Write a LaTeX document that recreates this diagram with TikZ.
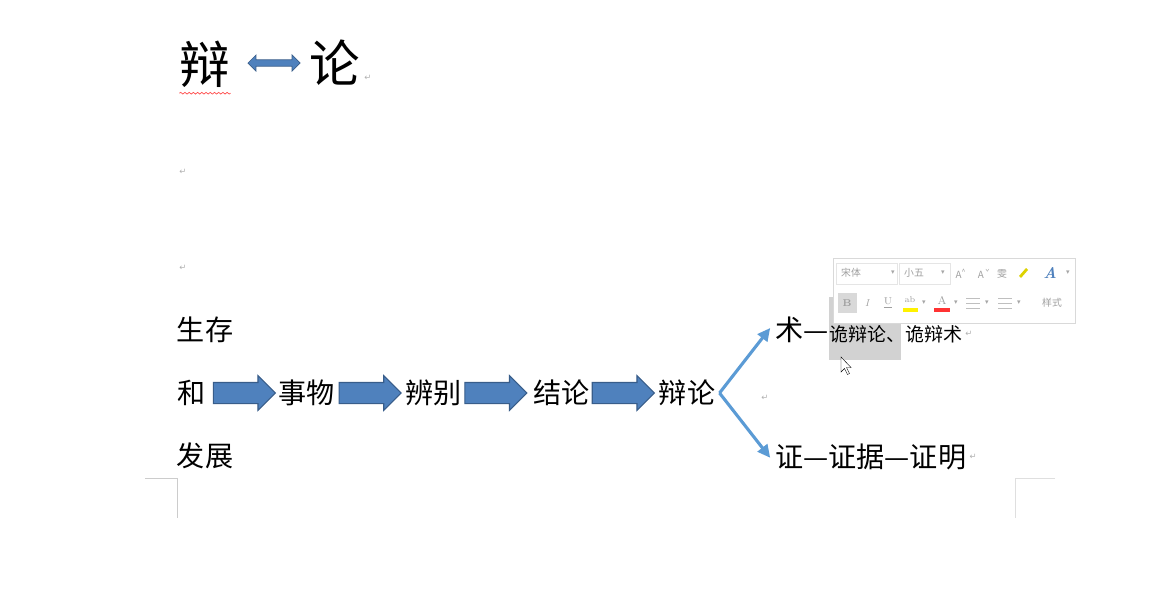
\documentclass[tikz,border=0pt]{standalone}
\usepackage{fontspec}
\usepackage{tikz}
\usetikzlibrary{positioning,arrows.meta,shapes.arrows,decorations.pathmorphing}
\newfontfamily\cjk{Noto Sans CJK SC}
\newfontfamily\symfont{DejaVu Sans}
\definecolor{arrowblue}{RGB}{79,129,189}
\definecolor{arrowedge}{RGB}{56,93,138}
\definecolor{branchblue}{RGB}{91,155,213}

\begin{document}
\begin{tikzpicture}[
    x=0.025cm, y=-0.025cm,
    node distance=0.09cm,
    title/.style={inner sep=0pt, font=\cjk\fontsize{36}{40}\selectfont},
    word/.style={inner sep=0pt, font=\cjk\fontsize{20}{24}\selectfont},
    small/.style={inner sep=0pt, font=\cjk\fontsize{13.5}{16}\selectfont},
    blockarr/.style={single arrow, fill=arrowblue, draw=arrowedge, line width=0.8pt,
        inner xsep=0pt, inner ysep=0.25cm, minimum height=1.55cm, minimum width=0.8cm,
        single arrow head extend=0.17cm},
    dblarr/.style={double arrow, fill=arrowblue, draw=arrowedge, line width=0.5pt,
        inner xsep=0pt, inner ysep=0.07cm, minimum height=1.3cm, minimum width=0.4cm,
        double arrow head extend=0.12cm},
    branch/.style={-{Triangle[length=3.2mm, width=3mm]}, line width=2.2pt, draw=branchblue},
    retmark/.style={inner sep=0pt, text=gray!60, font=\symfont\fontsize{6}{6}\selectfont},
    tb/.style={inner sep=0pt, text=gray!75, font=\cjk\fontsize{7}{8}\selectfont},
    tri/.style={inner sep=0pt, text=gray!70, font=\symfont\fontsize{5}{5}\selectfont}
]
    \fill[white] (0,0) rectangle (1158,607);
    \useasboundingbox (0,0) rectangle (1158,607);

    % title
    \node[title] (bian) at (205,64) {辩};
    \node[dblarr] (link) at (274,63) {};
    \node[title] (lun) at (335,63) {论};
    \draw[red!70, line width=0.5pt, decorate, decoration={snake, amplitude=0.6pt, segment length=3pt}]
        ([yshift=-4pt]bian.south west) -- ([yshift=-4pt]bian.south east);
    \node[retmark] (m1) at (368,78) {↵};
    \node[retmark] (m2) at (183,172) {↵};
    \node[retmark] (m3) at (183,268) {↵};

    % chain
    \node[word] (shengcun) at (205,330) {生存};
    \node[word] (he) at (192,393) {和};
    \node[word] (fazhan) at (205,456) {发展};
    \node[blockarr, right=0.16cm of he] (a1) {};
    \node[word, right=0.05cm of a1] (shiwu) {事物};
    \node[blockarr, right=of shiwu] (a2) {};
    \node[word, right=of a2] (bianbie) {辨别};
    \node[blockarr, right=0.05cm of bianbie] (a3) {};
    \node[word, right=0.13cm of a3] (jielun) {结论};
    \node[blockarr, right=0.05cm of jielun] (a4) {};
    \node[word, right=of a4] (bianlun) {辩论};
    \node[retmark] (m4) at (765,398) {↵};

    % highlight behind the selection
    \fill[gray!35] (829,297) rectangle (901,360);

    % branches
    \node[word, anchor=west] (shu) at (775,330) {术—};
    \node[small, anchor=west] (guibian) at ([yshift=-3pt]shu.east) {诡辩论、诡辩术};
    \node[retmark, right=2pt of guibian] (m5) {↵};
    \node[word, anchor=west] (zheng) at (775,457) {证—证据—证明};
    \node[retmark, right=2pt of zheng] (m6) {↵};
    \coordinate (fork) at ([xshift=0.1cm]bianlun.east);
    \draw[branch] (fork) -- ([shift={(-0.12cm,0.05cm)}]shu.west);
    \draw[branch] (fork) -- ([shift={(-0.12cm,-0.02cm)}]zheng.west);

    % mini toolbar
    \draw[gray!30, fill=white] (833,258) rectangle (1075,323);
    \draw[gray!20, fill=white] (836,263) rectangle (897,284);
    \draw[gray!20, fill=white] (899,263) rectangle (950,284);
    \node[tb] (font) at (851,273) {宋体};
    \node[tri] (t1) at (893,273) {▾};
    \node[tb] (size) at (914,273) {小五};
    \node[tri] (t2) at (943,273) {▾};
    \node[tb] (grow) at (961,274) {A\textsuperscript{\^{}}};
    \node[tb] (shrink) at (982,274) {A\textsuperscript{\v{}}};
    \node[tb] (pinyin) at (1002,274) {雯};
    \fill[yellow!70!olive] (1019,276) -- (1026,268) -- (1028,270) -- (1021,278) -- cycle;
    \node[inner sep=0pt, text=arrowblue, font=\bfseries\itshape\fontsize{11}{11}\selectfont] (effect) at (1050,273) {A};
    \node[tri] (t3) at (1068,273) {▾};
    \fill[gray!30] (838,293) rectangle (857,313);
    \node[tb, font=\bfseries\fontsize{7}{8}\selectfont] (bold) at (847,303) {B};
    \node[tb, font=\itshape\fontsize{7}{8}\selectfont] (ital) at (867,303) {I};
    \node[tb, font=\fontsize{7}{8}\selectfont] (under) at (888,303) {\underline{U}};
    \node[tb, font=\fontsize{6}{7}\selectfont] (hl) at (910,300) {ab};
    \fill[yellow] (903,308) rectangle (918,312);
    \node[tri] (t4) at (924,303) {▾};
    \node[tb, font=\fontsize{8}{8}\selectfont] (fc) at (942,300) {A};
    \fill[red!80] (934,308) rectangle (950,312);
    \node[tri] (t5) at (956,303) {▾};
    \foreach \yy in {298,303,308} {
        \draw[gray!50, line width=0.4pt] (966,\yy) -- (980,\yy);
        \draw[gray!50, line width=0.4pt] (998,\yy) -- (1012,\yy);
    }
    \node[tri] (t6) at (987,303) {▾};
    \node[tri] (t7) at (1019,303) {▾};
    \node[tb] (style) at (1052,303) {样式};

    % mouse cursor
    \draw[black, line width=0.3pt, fill=white] (841,357) -- (841,372) -- (844.5,368.5) -- (847.5,374.5)
        -- (849.5,373.5) -- (846.5,367.5) -- (851,367.5) -- cycle;

    % page corner marks
    \draw[gray!40, line width=0.6pt] (145,478) -- (177,478) -- (177,518);
    \draw[gray!25, line width=0.6pt] (1055,478) -- (1015,478) -- (1015,518);
\end{tikzpicture}
\end{document}
